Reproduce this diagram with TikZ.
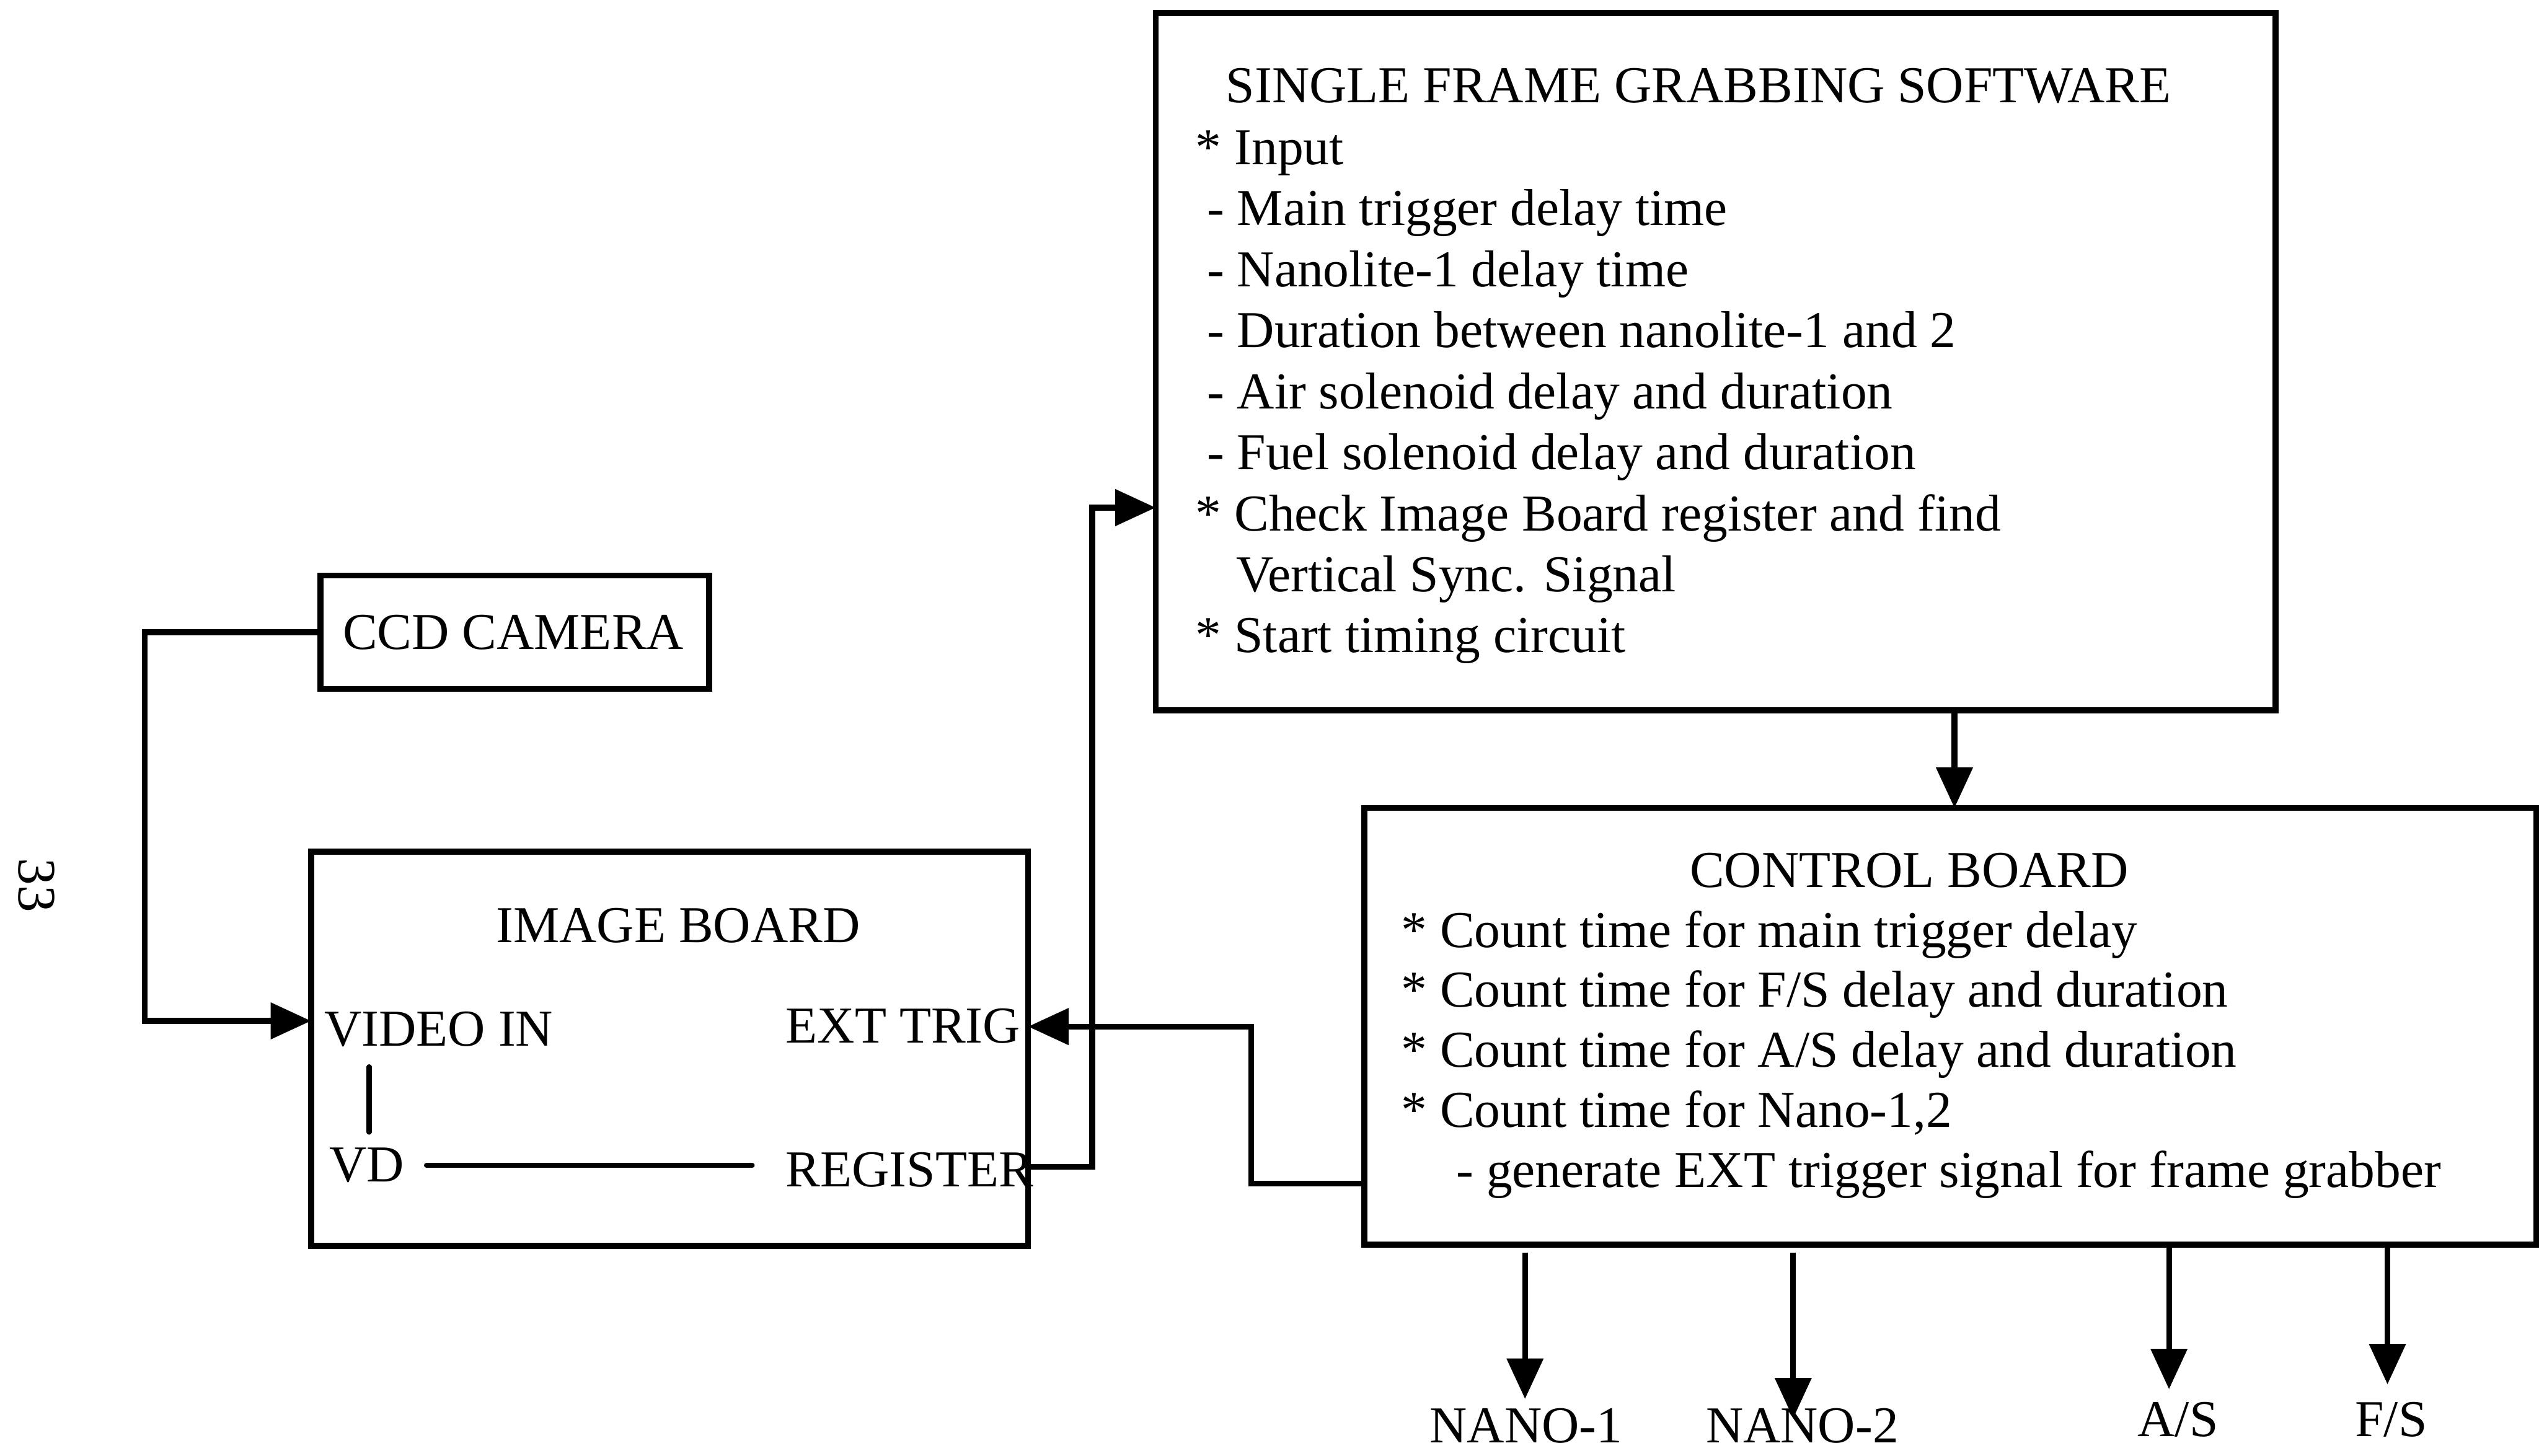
\documentclass[tikz,border=0pt]{standalone}
\usepackage{fontspec}
\setmainfont{Liberation Serif}
\usetikzlibrary{arrows.meta}
\begin{document}
\begin{tikzpicture}[x=0.02cm, y=-0.02cm,
  frame/.style={draw, line width=2.1pt, inner sep=0pt, outer sep=0pt, anchor=north west},
  lbl/.style={inner sep=0pt, anchor=base west, font=\fontsize{18.2}{21}\selectfont},
  clbl/.style={lbl, anchor=base},
  wire/.style={line width=2pt},
  feed/.style={wire, -{Triangle[length=0.5cm, width=0.44cm]}},
  link/.style={line width=1.8pt, line cap=round},
]
\useasboundingbox (0,0) rectangle (1568,899);

% page number
\node[inner sep=0pt, rotate=-90, font=\fontsize{19}{21}\selectfont] (pagenum) at (22.6,546.8) {33};

% ---------------- boxes ----------------
\node[frame, minimum width=13.836cm, minimum height=8.618cm] (sfg) at (713.7,8) {};
\node[frame, minimum width=4.8cm, minimum height=1.4cm] (ccd) at (198,355.5) {};
\node[frame, minimum width=8.858cm, minimum height=4.872cm] (img) at (192.1,526) {};
\node[frame, minimum width=14.478cm, minimum height=5.394cm] (ctrl) at (842.6,499) {};

% ---------------- software box text ----------------
\node[clbl] (sfgtitle) at (1049,63.5) {SINGLE FRAME GRABBING SOFTWARE};
\node[lbl] (sfg1) at (738,101.5) {* Input};
\node[lbl] (sfg2) at (745,139.2) {- Main trigger delay time};
\node[lbl] (sfg3) at (745,176.9) {- Nanolite-1 delay time};
\node[lbl] (sfg4) at (745,214.6) {- Duration between nanolite-1 and 2};
\node[lbl] (sfg5) at (745,252.3) {- Air solenoid delay and duration};
\node[lbl] (sfg6) at (745,290.0) {- Fuel solenoid delay and duration};
\node[lbl] (sfg7) at (738,327.7) {* Check Image Board register and find};
\node[lbl] (sfg8) at (763,365.4) {Vertical Sync. Signal};
\node[lbl] (sfg9) at (738,403.0) {* Start timing circuit};

% ---------------- camera ----------------
\node[clbl] (ccdtext) at (317,400.8) {CCD CAMERA};

% ---------------- image board ----------------
\node[clbl] (imgtitle) at (418.8,582) {IMAGE BOARD};
\node[lbl] (videoin) at (200,646) {VIDEO IN};
\node[lbl] (exttrig) at (485,644.2) {EXT TRIG};
\node[lbl] (vd) at (203,730) {VD};
\node[lbl] (reg) at (485,732.7) {REGISTER};
\path (vd.north west) ++(25,0) coordinate (vdtop);
\draw[link, shorten <=0.19cm, shorten >=0.24cm] (vdtop) -- (vdtop |- videoin.south);
\draw[link, shorten <=0.27cm, shorten >=0.41cm] (vd.east) -- (vd.east -| reg.west);

% ---------------- control board ----------------
\node[clbl] (ctrltitle) at (1179,548) {CONTROL BOARD};
\node[lbl] (ctrl1) at (865,585) {* Count time for main trigger delay};
\node[lbl] (ctrl2) at (865,622) {* Count time for F/S delay and duration};
\node[lbl] (ctrl3) at (865,659) {* Count time for A/S delay and duration};
\node[lbl] (ctrl4) at (865,696) {* Count time for Nano-1,2};
\node[lbl] (ctrl5) at (899,733.4) {- generate EXT trigger signal for frame grabber};

% ---------------- outputs ----------------
\node[clbl] (nano1) at (942.5,891) {NANO-1};
\node[clbl] (nano2) at (1113,891) {NANO-2};
\node[clbl] (airs) at (1345,887) {A/S};
\node[clbl] (fuels) at (1476.7,887) {F/S};

% ---------------- ports ----------------
\path (img.north west) ++(0,104.5) coordinate (vidport);
\path (img.north east) ++(0,108) coordinate (trigport);
\path (img.north east) ++(0,194.5) coordinate (regport);
\path (sfg.north west) ++(0,305.5) coordinate (swin);
\path (sfg.south west) ++(493.3,0) coordinate (sfgout);
\path (ctrl.north west) ++(0,232) coordinate (ctrlout);
\coordinate (n1tip) at (941.8,864);
\coordinate (n2tip) at (1107.4,876);
\coordinate (astip) at (1339.5,858);
\coordinate (fstip) at (1474.4,855);

% ---------------- connectors ----------------
\draw[feed] (ccd.west) -- ++(-108.5,0) |- (vidport);
\draw[feed] (regport) -- ++(39.6,0) |- (swin);
\draw[feed] (ctrlout) -- ++(-70,0) |- (trigport);
\draw[feed] (sfgout) -- (sfgout |- ctrl.north);
\draw[feed, shorten <=0.1cm] (ctrl.south -| n1tip) -- (n1tip);
\draw[feed, shorten <=0.1cm] (ctrl.south -| n2tip) -- (n2tip);
\draw[feed] (ctrl.south -| astip) -- (astip);
\draw[feed] (ctrl.south -| fstip) -- (fstip);
\end{tikzpicture}
\end{document}
